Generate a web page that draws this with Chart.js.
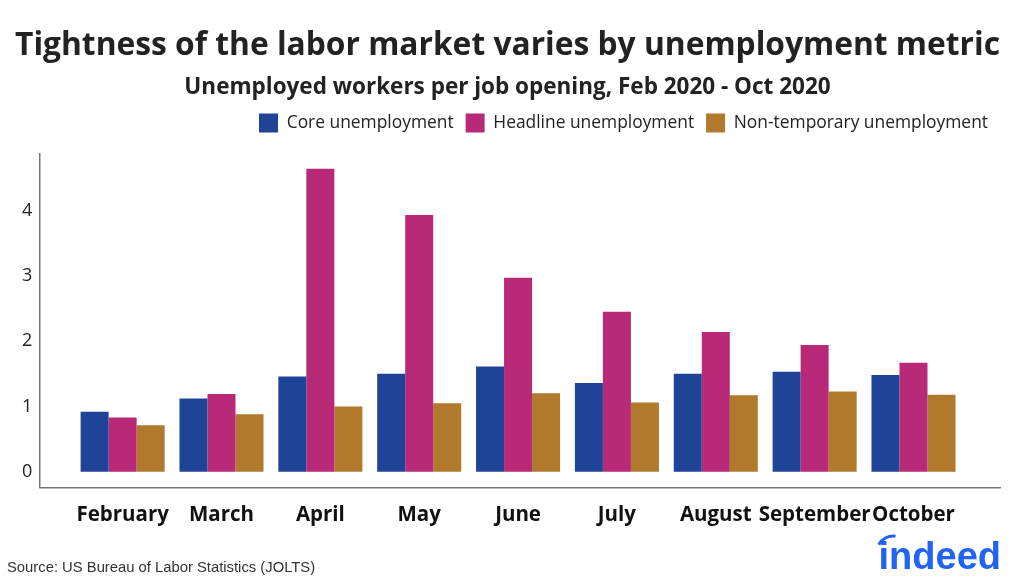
<!DOCTYPE html>
<html>
<head>
<meta charset="utf-8">
<script src="https://cdn.jsdelivr.net/npm/chart.js@4.4.0/dist/chart.umd.min.js"></script>
<style>
  html, body { margin: 0; padding: 0; background: #fff; }
  #wrap { width: 1024px; height: 582px; }
</style>
</head>
<body>
<div id="wrap"><canvas id="myChart" width="1024" height="582"></canvas></div>
<script>
	// 월별 카테고리
	var months = ['February', 'March', 'April', 'May', 'June', 'July', 'August', 'September', 'October'];

	// 시리즈 값
	var coreValues     = [0.92, 1.12, 1.46, 1.50, 1.61, 1.36, 1.50, 1.53, 1.48];
	var headlineValues = [0.83, 1.19, 4.64, 3.93, 2.97, 2.45, 2.14, 1.94, 1.67];
	var nonTempValues  = [0.71, 0.88, 1.00, 1.05, 1.20, 1.06, 1.17, 1.23, 1.18];

	// y축 눈금
	var yTicks = [0, 1, 2, 3, 4];

	function toPoints(arr) {
		return arr.map((v, i) => ({ x: i, y: v }));
	}

	var data = {
		datasets: [
			{ label: 'Core unemployment', data: toPoints(coreValues), backgroundColor: '#1f4397' },
			{ label: 'Headline unemployment', data: toPoints(headlineValues), backgroundColor: '#b82a77' },
			{ label: 'Non-temporary unemployment', data: toPoints(nonTempValues), backgroundColor: '#b1792c' }
		]
	};

	// 범례 아래 여백 추가
	var legendGapPlugin = {
		id: 'legendGap',
		beforeInit(chart) {
			const origFit = chart.legend.fit;
			chart.legend.fit = function () {
				origFit.bind(chart.legend)();
				this.height += 11;
			};
		}
	};

	// 출처와 로고
	var footerPlugin = {
		id: 'footer',
		afterDraw(chart) {
			const c = chart.ctx;
			c.save();
			c.fillStyle = '#333';
			c.font = '14.8px "Liberation Sans", Arial, sans-serif';
			c.textBaseline = 'alphabetic';
			c.textAlign = 'left';
			c.fillText('Source: US Bureau of Labor Statistics (JOLTS)', 7, 572);

			c.fillStyle = '#2164f3';
			c.font = 'bold 38px "Liberation Sans", Arial, sans-serif';
			c.textAlign = 'right';
			c.fillText('indeed', 1001, 569);
			c.strokeStyle = '#2164f3';
			c.lineWidth = 3;
			c.beginPath();
			c.arc(893, 552, 16, Math.PI * 1.15, Math.PI * 1.55);
			c.stroke();
			c.restore();
		}
	};

	var options = {
		responsive: false,
		animation: false,
		layout: { padding: { left: 15, right: 24, top: 0, bottom: 40 } },
		datasets: { bar: { categoryPercentage: 0.85, barPercentage: 1.0 } },
		plugins: {
			title: {
				display: true,
				text: 'Tightness of the labor market varies by unemployment metric',
				color: '#222',
				font: { family: '"Open Sans"', size: 32, weight: 'bold' },
				padding: { top: 27, bottom: 4 }
			},
			subtitle: {
				display: true,
				text: 'Unemployed workers per job opening, Feb 2020 - Oct 2020',
				color: '#222',
				font: { family: '"Open Sans"', size: 22.5, weight: 'bold' },
				padding: { top: 5, bottom: 0 }
			},
			legend: {
				display: true,
				align: 'end',
				labels: {
					color: '#222',
					boxWidth: 19,
					boxHeight: 19,
					padding: 12,
					font: { family: '"Open Sans"', size: 17.4 }
				}
			},
			tooltip: { enabled: false }
		},
		scales: {
			x: {
				type: 'linear',
				offset: false,
				min: -0.843,
				max: 8.875,
				grid: { display: false, drawTicks: false },
				border: { display: true, color: '#777', width: 1.5 },
				afterBuildTicks: (scale) => { scale.ticks = months.map((m, i) => ({ value: i })); },
				ticks: {
					color: '#111',
					padding: 15,
					autoSkip: false,
					maxRotation: 0,
					font: { family: '"Open Sans"', size: 20.5, weight: 'bold' },
					callback: (v) => months[v]
				}
			},
			y: {
				min: -0.24,
				max: 4.875,
				grid: { display: false, drawTicks: false },
				border: { display: true, color: '#777', width: 1.5 },
				afterBuildTicks: (scale) => { scale.ticks = yTicks.map(v => ({ value: v })); },
				ticks: {
					color: '#222',
					padding: 7,
					font: { family: '"Open Sans"', size: 18 }
				}
			}
		}
	};

	var ctx = document.getElementById('myChart').getContext('2d');

	var myChart = new Chart(ctx, {
		type: 'bar',
		data: data,
		options: options,
		plugins: [legendGapPlugin, footerPlugin]
	});
</script>
</body>
</html>
